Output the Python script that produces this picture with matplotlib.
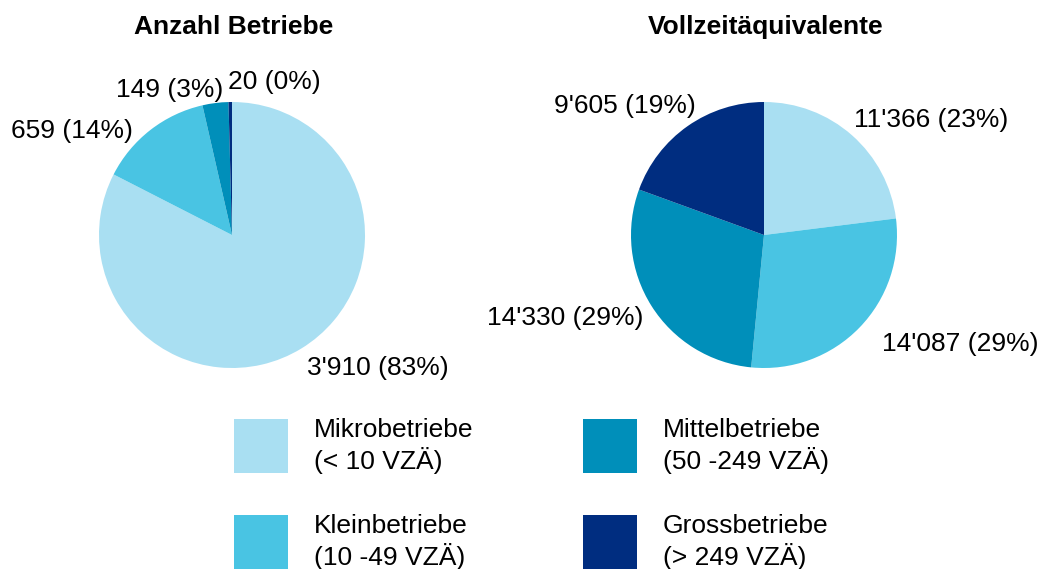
import matplotlib
matplotlib.use("Agg")
import matplotlib.pyplot as plt
from matplotlib.patches import Rectangle

plt.rcParams["font.family"] = ["Liberation Sans", "DejaVu Sans"]

# ---------------------------------------------------------------- data --------
categories = ["Mikrobetriebe", "Kleinbetriebe", "Mittelbetriebe", "Grossbetriebe"]
ranges = ["(< 10 VZÄ)", "(10 -49 VZÄ)", "(50 -249 VZÄ)", "(> 249 VZÄ)"]
anzahl = [3910, 659, 149, 20]
vza = [11366, 14087, 14330, 9605]
titles = ["Anzahl Betriebe", "Vollzeitäquivalente"]
colors = ["#A9DFF2", "#49C4E3", "#008FBA", "#002D80"]

# ---------------------------------------------------------------- layout ------
W, H = 1039, 569
R = 133
CENTERS = [(232, H - 235), (764, H - 235)]
# label anchor offsets from pie centre (px, digit centre) and alignment
LABEL_POS = [
    [(75, -130, "left"), (-99, 107, "right"), (-9, 148, "right"), (-4, 156, "left")],
    [(90, 118, "left"), (118, -107, "left"), (-121, -80, "right"), (-68, 132, "right")],
]
FS = 19


def fmt(v, total):
    return f"{v:,}".replace(",", "'") + f" ({round(100 * v / total):.0f}%)"


fig = plt.figure(figsize=(W / 100, H / 100), dpi=100)
ax = fig.add_axes([0, 0, 1, 1])

for series, (cx, cy), title, lpos in zip([anzahl, vza], CENTERS, titles, LABEL_POS):
    ax.pie(series, colors=colors, startangle=90, counterclock=False,
           center=(cx, cy), radius=R, frame=False,
           wedgeprops=dict(linewidth=0))
    total = sum(series)
    for v, (dx, dy, ha) in zip(series, lpos):
        ax.text(cx + dx, cy + dy - 9.5, fmt(v, total), fontsize=FS, ha=ha,
                va="baseline", color="#000000")
    ax.text(cx + 2, H - 34, title, fontsize=FS, fontweight="bold",
            ha="center", va="baseline")

# ---------------------------------------------------------------- legend ------
col_x = [234, 583]
row_top = [H - 419, H - 515]
for i, (cat, rng, col) in enumerate(zip(categories, ranges, colors)):
    c, r = divmod(i, 2)
    x0, top = col_x[c], row_top[r]
    ax.add_patch(Rectangle((x0, top - 54), 54, 54, facecolor=col, edgecolor="none"))
    ax.text(x0 + 80, top - 18, cat, fontsize=FS, ha="left", va="baseline")
    ax.text(x0 + 80, top - 50, rng, fontsize=FS, ha="left", va="baseline")

ax.set_xlim(0, W)
ax.set_ylim(0, H)
ax.set_aspect("equal")
ax.axis("off")

fig.savefig("out.png", dpi=100, facecolor="white")
